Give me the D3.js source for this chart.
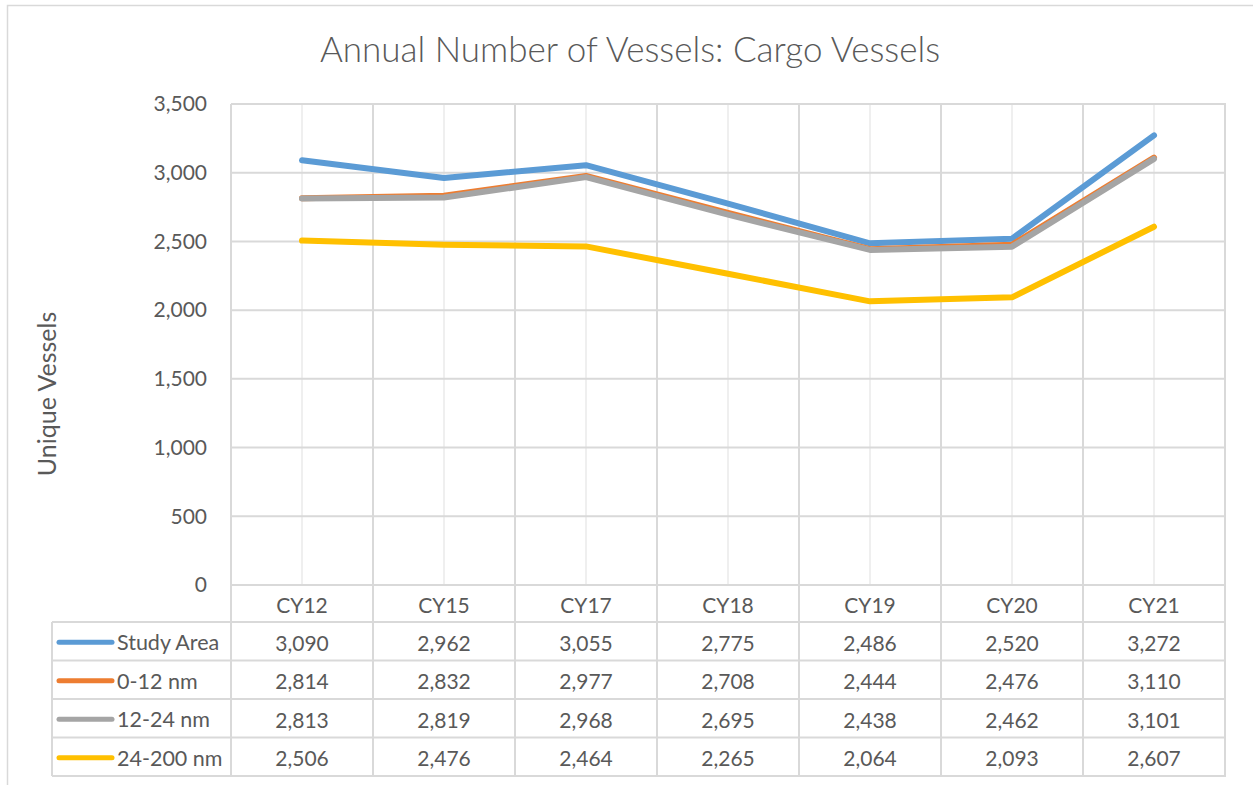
<!DOCTYPE html>
<html lang="en">
<head>
    <meta charset="UTF-8">
    <title>Annual Number of Vessels: Cargo Vessels</title>
    <script src="https://d3js.org/d3.v7.min.js"></script>
    <style>
        body { margin: 0; background: #fff; }
        svg text { font-family: Lato, "Open Sans", sans-serif; fill: #595959; }
    </style>
</head>
<body>
    <script>
        const categories = ["CY12", "CY15", "CY17", "CY18", "CY19", "CY20", "CY21"];
        const seriesNames = ["Study Area", "0-12 nm", "12-24 nm", "24-200 nm"];
        const studyArea = [3090, 2962, 3055, 2775, 2486, 2520, 3272];
        const nm0to12 = [2814, 2832, 2977, 2708, 2444, 2476, 3110];
        const nm12to24 = [2813, 2819, 2968, 2695, 2438, 2462, 3101];
        const nm24to200 = [2506, 2476, 2464, 2265, 2064, 2093, 2607];
        const colors = ["#5b9bd5", "#ed7d31", "#a5a5a5", "#ffc000"];
        const yTicks = [0, 500, 1000, 1500, 2000, 2500, 3000, 3500];

        const series = [studyArea, nm0to12, nm12to24, nm24to200].map((v, i) => ({
            name: seriesNames[i], values: v, color: colors[i]
        }));

        const w = 1253, h = 785;
        const plotLeft = 231, plotRight = 1225, plotTop = 104, plotBottom = 585;
        const tableLeft = 52;
        const rowEdges = [585, 622, 660.5, 699, 737.5, 776];
        const fs = 21;

        const svg = d3.select("body").append("svg")
            .attr("width", w).attr("height", h);

        svg.append("rect").attr("width", w).attr("height", h).attr("fill", "#fff");
        // chart border
        svg.append("rect")
            .attr("x", 7.5).attr("y", 5.5)
            .attr("width", 1260).attr("height", 800)
            .attr("fill", "none").attr("stroke", "#d9d9d9").attr("stroke-width", 1.5);

        const x = d3.scaleBand().domain(categories).range([plotLeft, plotRight]);
        const y = d3.scaleLinear().domain([0, 3500]).range([plotBottom, plotTop]);

        // light gridlines at category centres
        svg.append("g").selectAll("line")
            .data(categories).join("line")
            .attr("x1", d => x(d) + x.bandwidth() / 2).attr("x2", d => x(d) + x.bandwidth() / 2)
            .attr("y1", plotTop).attr("y2", plotBottom)
            .attr("stroke", "#efefef").attr("stroke-width", 2);

        // horizontal gridlines
        svg.append("g").selectAll("line")
            .data(yTicks).join("line")
            .attr("x1", plotLeft).attr("x2", plotRight + 1)
            .attr("y1", d => y(d)).attr("y2", d => y(d))
            .attr("stroke", "#d9d9d9").attr("stroke-width", 2);

        // category boundaries, through the table
        const bounds = categories.map(d => x(d)).concat([plotRight]);
        svg.append("g").selectAll("line")
            .data(bounds).join("line")
            .attr("x1", d => d).attr("x2", d => d)
            .attr("y1", plotTop).attr("y2", rowEdges[5])
            .attr("stroke", "#d9d9d9").attr("stroke-width", 2);

        // table horizontal lines
        svg.append("g").selectAll("line")
            .data(rowEdges.slice(1)).join("line")
            .attr("x1", tableLeft).attr("x2", plotRight + 1)
            .attr("y1", d => d).attr("y2", d => d)
            .attr("stroke", "#d9d9d9").attr("stroke-width", 2);
        svg.append("line")
            .attr("x1", tableLeft).attr("x2", tableLeft)
            .attr("y1", rowEdges[1]).attr("y2", rowEdges[5])
            .attr("stroke", "#d9d9d9").attr("stroke-width", 2);

        // y axis labels
        const yAxis = d3.axisLeft(y).tickValues(yTicks).tickSize(0).tickPadding(0)
            .tickFormat(d3.format(","));
        const gy = svg.append("g")
            .attr("transform", "translate(207,0)")
            .call(yAxis);
        gy.select(".domain").remove();
        gy.attr("font-family", null).attr("font-size", null);
        gy.selectAll("text")
            .attr("font-size", fs).attr("fill", "#595959");

        // lines
        const line = d3.line()
            .x((d, i) => x(categories[i]) + x.bandwidth() / 2)
            .y(d => y(d));
        svg.append("g").selectAll("path")
            .data(series).join("path")
            .attr("d", d => line(d.values))
            .attr("fill", "none")
            .attr("stroke", d => d.color)
            .attr("stroke-width", 6)
            .attr("stroke-linecap", "round")
            .attr("stroke-linejoin", "round");

        // table header
        svg.append("g").selectAll("text")
            .data(categories).join("text")
            .attr("x", d => x(d) + x.bandwidth() / 2)
            .attr("y", (rowEdges[0] + rowEdges[1]) / 2 + 1)
            .attr("text-anchor", "middle").attr("dominant-baseline", "central")
            .attr("font-size", fs)
            .text(d => d);

        // table rows
        const fmt = d3.format(",");
        const rows = svg.append("g").selectAll("g")
            .data(series).join("g")
            .attr("transform", (d, i) => `translate(0,${(rowEdges[i + 1] + rowEdges[i + 2]) / 2 + 1})`);
        rows.append("line")
            .attr("x1", 59).attr("x2", 112)
            .attr("stroke", d => d.color).attr("stroke-width", 5)
            .attr("stroke-linecap", "round");
        rows.append("text")
            .attr("x", 117).attr("dominant-baseline", "central")
            .attr("font-size", 21.5)
            .text(d => d.name);
        rows.selectAll("text.val")
            .data(d => d.values).join("text")
            .attr("class", "val")
            .attr("x", (d, i) => x(categories[i]) + x.bandwidth() / 2)
            .attr("text-anchor", "middle").attr("dominant-baseline", "central")
            .attr("font-size", fs)
            .text(d => fmt(d));

        // title
        svg.append("text")
            .attr("x", 630).attr("y", 62)
            .attr("text-anchor", "middle")
            .attr("font-size", 35).attr("font-weight", 300)
            .text("Annual Number of Vessels: Cargo Vessels");

        // y axis title
        svg.append("text")
            .attr("transform", "translate(46,394) rotate(-90)")
            .attr("text-anchor", "middle").attr("dominant-baseline", "central")
            .attr("font-size", 25)
            .text("Unique Vessels");
    </script>
</body>
</html>
